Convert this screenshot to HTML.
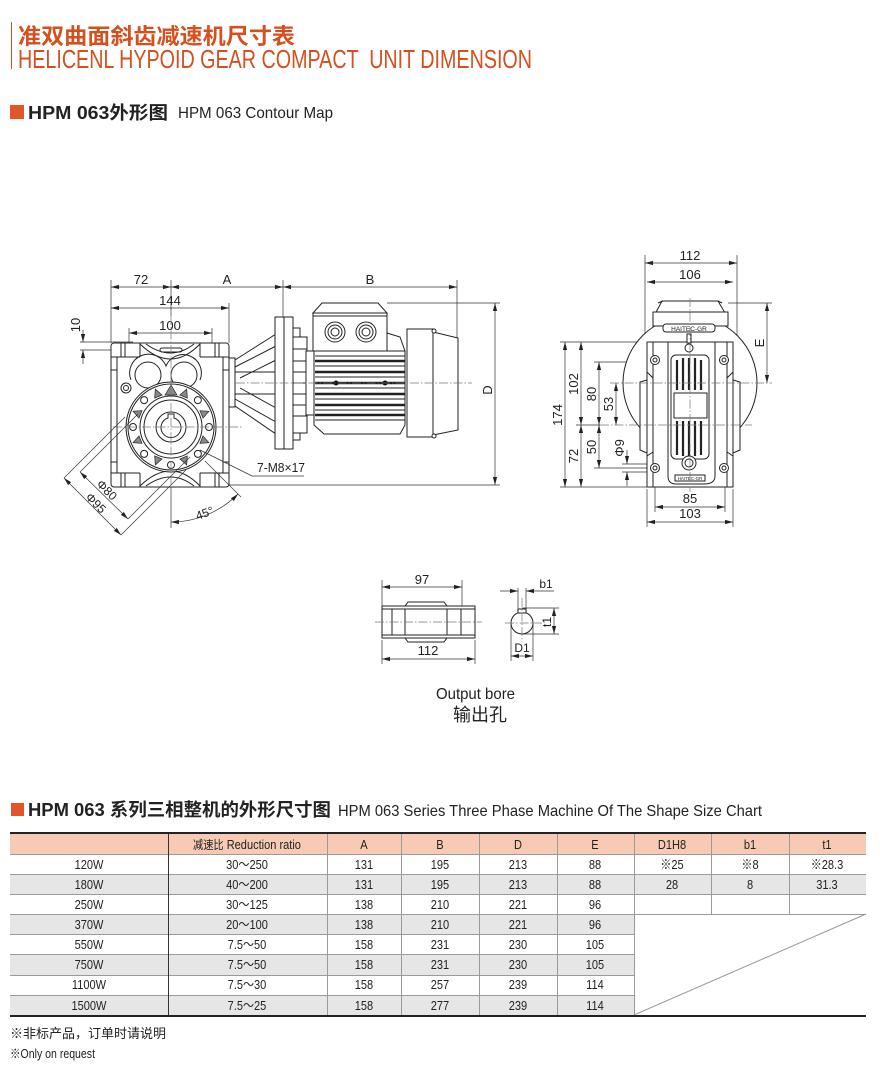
<!DOCTYPE html>
<html><head><meta charset="utf-8">
<style>
html,body{margin:0;padding:0;background:#fff;width:880px;height:1077px;overflow:hidden;}
svg{display:block;}
text{font-family:"Liberation Sans Narrow","Liberation Sans","Noto Sans CJK SC",sans-serif;fill:#222;}
.cn{font-family:"Liberation Sans","Noto Sans CJK SC",sans-serif;}
.dl{stroke:#333;stroke-width:0.7;fill:none;}
.ln{stroke:#222;stroke-width:1;fill:#fff;}
.lnn{stroke:#222;stroke-width:1;fill:none;}
.cl{stroke:#777;stroke-width:0.7;fill:none;stroke-dasharray:9 2 1.5 2;}
.t13{font-size:13px;}
.tb{font-size:13px;}
</style></head><body>
<svg width="880" height="1077" viewBox="0 0 880 1077" xmlns="http://www.w3.org/2000/svg">
<defs>
<marker id="a" markerUnits="userSpaceOnUse" markerWidth="8" markerHeight="6" refX="8" refY="3" orient="auto-start-reverse"><path d="M0,0.9 L8,3 L0,5.1 z" fill="#222"/></marker>
</defs>

<!-- Header -->
<line x1="11.5" y1="22" x2="11.5" y2="69" stroke="#d4501f" stroke-width="1"/>
<text x="18" y="44" class="cn" font-size="22" font-weight="bold" style="fill:#d4501f" textLength="277" lengthAdjust="spacingAndGlyphs">准双曲面斜齿减速机尺寸表</text>
<text x="18" y="68" font-size="26" style="fill:#d4501f" textLength="514" lengthAdjust="spacingAndGlyphs">HELICENL HYPOID GEAR COMPACT &#160;UNIT DIMENSION</text>

<rect x="10" y="105" width="14" height="14" fill="#e0562a"/>
<text x="28" y="119" class="cn" font-size="18" font-weight="bold" textLength="140" lengthAdjust="spacingAndGlyphs">HPM 063外形图</text>
<text x="178" y="118" font-size="16" textLength="155" lengthAdjust="spacingAndGlyphs">HPM 063 Contour Map</text>

<!-- ============ LEFT VIEW ============ -->
<path class="dl" d="M111,280 V343 M171,280 V316 M283,280 V317 M457,280 V338 M229,303 V343 M129,328 V350 M212,328 V350 M80,342 H133 M80,350 H118 M387,303 H500 M229,485 H500"/>
<path class="dl" d="M111,287 H171" marker-start="url(#a)" marker-end="url(#a)"/>
<path class="dl" d="M171,287 H283" marker-start="url(#a)" marker-end="url(#a)"/>
<path class="dl" d="M283,287 H457" marker-start="url(#a)" marker-end="url(#a)"/>
<path class="dl" d="M111,308 H229" marker-start="url(#a)" marker-end="url(#a)"/>
<path class="dl" d="M129,333 H212" marker-start="url(#a)" marker-end="url(#a)"/>
<path class="dl" d="M83,330 V342" marker-end="url(#a)"/>
<path class="dl" d="M83,364 V350" marker-end="url(#a)"/>
<path class="dl" d="M495,303 V485" marker-start="url(#a)" marker-end="url(#a)"/>
<text x="141" y="284" class="t13" text-anchor="middle">72</text>
<text x="227" y="284" class="t13" text-anchor="middle">A</text>
<text x="370" y="284" class="t13" text-anchor="middle">B</text>
<text x="170" y="305" class="t13" text-anchor="middle">144</text>
<text x="170" y="330" class="t13" text-anchor="middle">100</text>
<text transform="translate(80,325) rotate(-90)" class="t13" text-anchor="middle">10</text>
<text transform="translate(492,390) rotate(-90)" class="t13" text-anchor="middle">D</text>

<!-- cone adapter -->
<rect x="229" y="358" width="6" height="49" class="ln"/>
<path class="ln" d="M235,360 L276,334 V434 L235,406 Z"/>
<path class="lnn" d="M235,367 L276,346 M235,399 L276,422 M235,372 H276 M235,394 H276 M240,378 L276,360 M240,388 L276,408"/>
<!-- flange -->
<rect x="275" y="317" width="18" height="132" class="ln" stroke-width="1.2"/>
<line x1="284" y1="317" x2="284" y2="449" class="lnn"/>
<rect x="293" y="328" width="7" height="11" class="ln"/>
<rect x="293" y="429" width="7" height="11" class="ln"/>

<!-- motor -->
<rect x="293" y="337" width="14" height="96" class="ln"/>
<path class="lnn" d="M293,349 H307 M293,361 H307 M293,372 H307 M293,383 H307 M293,394 H307 M293,405 H307 M293,416 H307"/>
<path class="ln" d="M387,333 L400,337 L405,351 H387 Z"/>
<path class="ln" d="M313,313 H387 V351 H313 Z"/>
<path class="ln" d="M313,313 L322,303 H378 L387,313 Z"/>
<line x1="313" y1="316" x2="387" y2="316" class="lnn"/>
<circle cx="335" cy="332" r="10" class="ln"/><circle cx="335" cy="332" r="7" class="lnn"/><circle cx="335" cy="332" r="4" class="lnn"/>
<circle cx="366" cy="332" r="10" class="ln"/><circle cx="366" cy="332" r="7" class="lnn"/><circle cx="366" cy="332" r="4" class="lnn"/>
<path class="ln" d="M306,351 H405 V425 L400,434 H324 L314,425 V351 Z"/>
<rect x="306" y="351" width="8" height="64" class="ln"/>
<path d="M315,361 H405 M315,372 H405 M315,383 H405 M315,394 H405 M315,405 H405 M315,415 H405" stroke="#222" stroke-width="2.5"/>
<path class="lnn" d="M315,356 H405 M315,366 H405 M315,377 H405 M315,388 H405 M315,399 H405 M315,410 H405 M315,420 H405" stroke-width="0.6"/>
<circle cx="336" cy="383" r="2.5" fill="#111"/><circle cx="385" cy="383" r="2.5" fill="#111"/>
<rect x="407" y="329" width="26" height="108" class="ln" stroke-width="1.2"/>
<path class="ln" d="M433,332 L458,338 V430 L433,435 Z"/>
<circle cx="434" cy="331" r="2" class="ln"/><circle cx="434" cy="436" r="2" class="ln"/>
<path class="cl" d="M236,383 H472"/>

<!-- gearbox -->
<rect x="111" y="343" width="118" height="144" rx="3" class="ln" stroke-width="1.3"/>
<path class="lnn" d="M117,357 V473 M223,357 V473 M111,357 H140 M200,357 H229 M111,473 H140 M200,473 H229 M140,343 V357 M200,343 V357 M140,473 V487 M200,473 V487 M121,343 V357 M125,343 V357 M215,343 V357 M219,343 V357 M121,473 V487 M125,473 V487 M215,473 V487 M219,473 V487 M111,370 H117 M223,370 H229 M111,462 H117 M223,462 H229"/>
<path class="lnn" d="M140,344 Q171,374 200,344 M146,344 Q171,362 194,344"/>
<rect x="160" y="348" width="22" height="4" rx="2" class="lnn"/>
<path class="lnn" d="M140,486 Q171,456 200,486 M146,486 Q171,468 194,486"/>
<path class="lnn" d="M131,380 A18,18 0 0 1 166,366 A18,18 0 0 1 200,380"/>
<circle cx="148" cy="375" r="13" class="ln"/>
<circle cx="184" cy="375" r="13" class="ln"/>
<circle cx="126" cy="388" r="5" class="ln"/><circle cx="126" cy="388" r="2.5" class="lnn"/>
<circle cx="171" cy="427" r="45" class="ln" stroke-width="1.2"/>
<circle cx="171" cy="427" r="43" class="lnn" stroke-width="0.6"/>
<g fill="#888" stroke="#222" stroke-width="0.7">
<path transform="rotate(22.5 171 427)" d="M204,423 L212,427 L204,431 Z"/>
<path transform="rotate(67.5 171 427)" d="M204,423 L212,427 L204,431 Z"/>
<path transform="rotate(112.5 171 427)" d="M204,423 L212,427 L204,431 Z"/>
<path transform="rotate(157.5 171 427)" d="M204,423 L212,427 L204,431 Z"/>
<path transform="rotate(202.5 171 427)" d="M204,423 L212,427 L204,431 Z"/>
<path transform="rotate(247.5 171 427)" d="M204,423 L212,427 L204,431 Z"/>
<path transform="rotate(270 171 427)" d="M203,421 L213,427 L203,433 Z"/>
<path transform="rotate(292.5 171 427)" d="M204,423 L212,427 L204,431 Z"/>
<path transform="rotate(337.5 171 427)" d="M204,423 L212,427 L204,431 Z"/>
</g>
<g>
<circle cx="209" cy="427" r="3.5" class="ln"/>
<circle transform="rotate(45 171 427)" cx="209" cy="427" r="3.5" class="ln"/>
<circle transform="rotate(90 171 427)" cx="209" cy="427" r="3.5" class="ln"/>
<circle transform="rotate(135 171 427)" cx="209" cy="427" r="3.5" class="ln"/>
<circle transform="rotate(180 171 427)" cx="209" cy="427" r="3.5" class="ln"/>
<circle transform="rotate(225 171 427)" cx="209" cy="427" r="3.5" class="ln"/>
<circle transform="rotate(315 171 427)" cx="209" cy="427" r="3.5" class="ln"/>
</g>
<circle cx="171" cy="427" r="31" class="ln" stroke-width="1.1"/>
<circle cx="171" cy="427" r="27" class="lnn"/>
<circle cx="171" cy="427" r="15" class="ln"/>
<path class="ln" d="M168,418 V414 H174 V418 A10,10 0 1 1 168,418 Z"/>
<path class="cl" d="M113,427 H242 M171,316 V487"/>

<!-- phi dims -->
<path class="dl" d="M64,478 L125,417 M121,535 L186,470 M80,472 L138,414 M128,519 L190,457 M171,487 V528 M205,461 L241,497 M200,450 L252,476 H304"/>
<path class="dl" d="M64,478 L121,535" marker-start="url(#a)" marker-end="url(#a)"/>
<path class="dl" d="M80,472 L128,519" marker-start="url(#a)" marker-end="url(#a)"/>
<path class="dl" d="M171,522 A95,95 0 0 0 238,494" marker-start="url(#a)" marker-end="url(#a)"/>
<text transform="translate(104,493) rotate(45)" font-size="12" text-anchor="middle">Φ80</text>
<text transform="translate(93,506) rotate(45)" font-size="12" text-anchor="middle">Φ95</text>
<text transform="translate(206,517) rotate(-20)" font-size="12" text-anchor="middle">45°</text>
<text x="257" y="472" font-size="12.5" textLength="48" lengthAdjust="spacingAndGlyphs">7-M8×17</text>

<!-- ============ RIGHT VIEW ============ -->
<path class="dl" d="M645,255 V342 M737,255 V342 M728,303 H772 M560,342 H647 M560,487 H647 M576,425 H600 M594,362 H651 M594,468 H651 M622,464 H651 M622,472 H651 M655,472 V512 M725,472 V512 M647,489 V527 M733,489 V527"/>
<path class="dl" d="M645,263 H737" marker-start="url(#a)" marker-end="url(#a)"/>
<path class="dl" d="M647,282 H733" marker-start="url(#a)" marker-end="url(#a)"/>
<path class="dl" d="M767,303 V383" marker-start="url(#a)" marker-end="url(#a)"/>
<path class="dl" d="M565,342 V487" marker-start="url(#a)" marker-end="url(#a)"/>
<path class="dl" d="M581,342 V425" marker-start="url(#a)" marker-end="url(#a)"/>
<path class="dl" d="M581,425 V487" marker-start="url(#a)" marker-end="url(#a)"/>
<path class="dl" d="M599,362 V425" marker-start="url(#a)" marker-end="url(#a)"/>
<path class="dl" d="M599,425 V468" marker-start="url(#a)" marker-end="url(#a)"/>
<path class="dl" d="M616,383 V425" marker-start="url(#a)" marker-end="url(#a)"/>
<path class="dl" d="M627,450 V464" marker-end="url(#a)"/>
<path class="dl" d="M627,486 V472" marker-end="url(#a)"/>
<path class="dl" d="M655,507 H725" marker-start="url(#a)" marker-end="url(#a)"/>
<path class="dl" d="M647,522 H733" marker-start="url(#a)" marker-end="url(#a)"/>
<text x="690" y="260" class="t13" text-anchor="middle">112</text>
<text x="690" y="279" class="t13" text-anchor="middle">106</text>
<text transform="translate(764,343) rotate(-90)" class="t13" text-anchor="middle">E</text>
<text transform="translate(562,415) rotate(-90)" class="t13" text-anchor="middle">174</text>
<text transform="translate(578,384) rotate(-90)" class="t13" text-anchor="middle">102</text>
<text transform="translate(578,456) rotate(-90)" class="t13" text-anchor="middle">72</text>
<text transform="translate(596,394) rotate(-90)" class="t13" text-anchor="middle">80</text>
<text transform="translate(596,447) rotate(-90)" class="t13" text-anchor="middle">50</text>
<text transform="translate(613,404) rotate(-90)" class="t13" text-anchor="middle">53</text>
<text transform="translate(624,448) rotate(-90)" class="t13" text-anchor="middle">Φ9</text>
<text x="690" y="503" class="t13" text-anchor="middle">85</text>
<text x="690" y="518" class="t13" text-anchor="middle">103</text>

<circle cx="690" cy="383" r="67" class="ln"/>
<path class="ln" d="M653,318 L662,301 H718 L728,318 Z"/>
<rect x="653" y="312" width="75" height="14" class="ln"/>
<path class="lnn" d="M658,303 L663,301 M722,303 L718,301"/>
<rect x="663" y="324" width="52" height="8" rx="3" class="ln"/>
<text x="689" y="331" font-size="6.5" text-anchor="middle">HAITEC-GR</text>
<path class="ln" d="M647,380 L640,382 V450 L647,453 Z"/>
<path class="ln" d="M733,380 L740,382 V450 L733,453 Z"/>
<path class="ln" d="M647,342 H733 V487 H647 Z" stroke-width="1.2"/>
<path class="lnn" d="M668,342 V476 Q668,484 676,484 H704 Q715,484 715,476 V342 M653,342 V487 M727,342 V487 M647,372 L653,378 M733,372 L727,378 M647,456 L653,452 M733,456 L727,452"/>
<rect x="671" y="355" width="38" height="104" rx="5" class="lnn"/>
<path d="M677,360 V390 M683,358 V390 M689,358 V390 M695,358 V390 M701,360 V390 M677,421 V455 M683,421 V456 M689,421 V456 M695,421 V456 M701,421 V455" stroke="#222" stroke-width="2.2"/>
<rect x="674" y="393" width="33" height="25" class="ln"/>
<circle cx="689" cy="463" r="7" class="ln"/><circle cx="689" cy="463" r="4" class="lnn"/>
<rect x="675" y="475" width="30" height="6" class="ln"/>
<text x="690" y="480" font-size="4.5" text-anchor="middle">HAITEC-GR</text>
<rect x="687" y="334" width="4" height="9" class="ln"/>
<circle cx="689" cy="348" r="4" class="ln"/>
<circle cx="655" cy="360" r="4.5" class="ln"/><circle cx="655" cy="360" r="2" class="lnn"/>
<circle cx="724" cy="360" r="4.5" class="ln"/><circle cx="724" cy="360" r="2" class="lnn"/>
<circle cx="655" cy="468" r="4.5" class="ln"/><circle cx="655" cy="468" r="2" class="lnn"/>
<circle cx="724" cy="468" r="4.5" class="ln"/><circle cx="724" cy="468" r="2" class="lnn"/>
<path class="cl" d="M610,383 H772 M600,425 H752 M690,298 V492"/>

<!-- ============ OUTPUT BORE ============ -->
<path class="dl" d="M382,580 V606 M462,580 V606 M382,640 V664 M475,640 V664"/>
<path class="dl" d="M382,587 H462" marker-start="url(#a)" marker-end="url(#a)"/>
<path class="dl" d="M382,659 H475" marker-start="url(#a)" marker-end="url(#a)"/>
<text x="422" y="584" class="t13" text-anchor="middle">97</text>
<text x="428" y="655" class="t13" text-anchor="middle">112</text>
<rect x="382" y="606" width="93" height="32" class="ln" stroke-width="1.2"/>
<path class="ln" d="M405,606 L408,602 H444 L447,606 Z"/>
<path class="ln" d="M405,638 L408,642 H444 L447,638 Z"/>
<path class="lnn" d="M382,609 H475 M382,635 H475 M392,609 V635 M405,609 V635 M447,609 V635 M461,609 V635"/>
<path class="cl" d="M375,622 H482"/>

<path class="dl" d="M518,588 V612 M526,588 V612 M522,608 H559 M522,634 H559 M511,623 V661 M533,623 V661"/>
<circle cx="522" cy="623" r="11" class="ln" stroke-width="1.2"/>
<rect x="518" y="609" width="8" height="4" class="ln"/>
<path class="dl" d="M500,591 H518" marker-end="url(#a)"/>
<path class="dl" d="M554,591 H526" marker-end="url(#a)"/>
<path class="dl" d="M554,608 V634" marker-start="url(#a)" marker-end="url(#a)"/>
<path class="dl" d="M511,656 H533" marker-start="url(#a)" marker-end="url(#a)"/>
<path class="cl" d="M505,623 H542 M522,598 V642"/>
<text x="546" y="588" font-size="12" text-anchor="middle">b1</text>
<text transform="translate(551,622) rotate(-90)" font-size="12" text-anchor="middle">t1</text>
<text x="522" y="652" font-size="12" text-anchor="middle">D1</text>

<text x="436" y="699" font-size="16" textLength="79" lengthAdjust="spacingAndGlyphs">Output bore</text>
<text x="480" y="721" class="cn" font-size="18" text-anchor="middle">输出孔</text>

<!-- ============ TABLE ============ -->
<rect x="11" y="803" width="13" height="13" fill="#e0562a"/>
<text x="28" y="816" class="cn" font-size="18" font-weight="bold" textLength="303" lengthAdjust="spacingAndGlyphs">HPM 063 系列三相整机的外形尺寸图</text>
<text x="338" y="816" font-size="16" textLength="424" lengthAdjust="spacingAndGlyphs">HPM 063 Series Three Phase Machine Of The Shape Size Chart</text>

<rect x="10" y="834" width="856" height="20" fill="#f6cab4"/>
<rect x="10" y="874" width="856" height="20" fill="#e6e6e6"/>
<rect x="10" y="914" width="624" height="20" fill="#e6e6e6"/>
<rect x="10" y="954" width="624" height="21" fill="#e6e6e6"/>
<rect x="10" y="995" width="624" height="21" fill="#e6e6e6"/>
<g stroke="#9a9a9a" stroke-width="1" fill="none">
<path d="M10,854.5 H866 M10,874.5 H866 M10,894.5 H866 M10,914.5 H866 M10,934.5 H634 M10,954.5 H634 M10,975.5 H634 M10,995.5 H634"/>
<path d="M327.5,834 V1015 M401.5,834 V1015 M479.5,834 V1015 M557.5,834 V1015 M634.5,834 V1015 M711.5,834 V914 M789.5,834 V914"/>
<path d="M866,914 L634,1015"/>
</g>
<path d="M168.5,834 V1015" stroke="#333" stroke-width="1"/>
<path d="M10,833 H866 M10,1016 H866" stroke="#222" stroke-width="2"/>

<g transform="scale(0.85,1)" class="tb" text-anchor="middle">
<text x="290.6" y="849"><tspan class="cn" font-size="12">减速比</tspan> Reduction ratio</text>
<text x="428.2" y="849">A</text><text x="517.6" y="849">B</text><text x="609.4" y="849">D</text><text x="700" y="849">E</text>
<text x="790.6" y="849">D1H8</text><text x="882.4" y="849">b1</text><text x="972.9" y="849">t1</text>

<text x="104.7" y="869">120W</text><text x="290.6" y="869">30～250</text><text x="428.2" y="869">131</text><text x="517.6" y="869">195</text><text x="609.4" y="869">213</text><text x="700" y="869">88</text><text x="790.6" y="869">※25</text><text x="882.4" y="869">※8</text><text x="972.9" y="869">※28.3</text>
<text x="104.7" y="889">180W</text><text x="290.6" y="889">40～200</text><text x="428.2" y="889">131</text><text x="517.6" y="889">195</text><text x="609.4" y="889">213</text><text x="700" y="889">88</text><text x="790.6" y="889">28</text><text x="882.4" y="889">8</text><text x="972.9" y="889">31.3</text>
<text x="104.7" y="909">250W</text><text x="290.6" y="909">30～125</text><text x="428.2" y="909">138</text><text x="517.6" y="909">210</text><text x="609.4" y="909">221</text><text x="700" y="909">96</text>
<text x="104.7" y="929">370W</text><text x="290.6" y="929">20～100</text><text x="428.2" y="929">138</text><text x="517.6" y="929">210</text><text x="609.4" y="929">221</text><text x="700" y="929">96</text>
<text x="104.7" y="949">550W</text><text x="290.6" y="949">7.5～50</text><text x="428.2" y="949">158</text><text x="517.6" y="949">231</text><text x="609.4" y="949">230</text><text x="700" y="949">105</text>
<text x="104.7" y="969">750W</text><text x="290.6" y="969">7.5～50</text><text x="428.2" y="969">158</text><text x="517.6" y="969">231</text><text x="609.4" y="969">230</text><text x="700" y="969">105</text>
<text x="104.7" y="989">1100W</text><text x="290.6" y="989">7.5～30</text><text x="428.2" y="989">158</text><text x="517.6" y="989">257</text><text x="609.4" y="989">239</text><text x="700" y="989">114</text>
<text x="104.7" y="1010">1500W</text><text x="290.6" y="1010">7.5～25</text><text x="428.2" y="1010">158</text><text x="517.6" y="1010">277</text><text x="609.4" y="1010">239</text><text x="700" y="1010">114</text>
</g>

<text x="10" y="1038" class="cn" font-size="13">※非标产品，订单时请说明</text>
<text x="10" y="1058" font-size="12.5" textLength="85" lengthAdjust="spacingAndGlyphs">※Only on request</text>
</svg>
</body></html>
